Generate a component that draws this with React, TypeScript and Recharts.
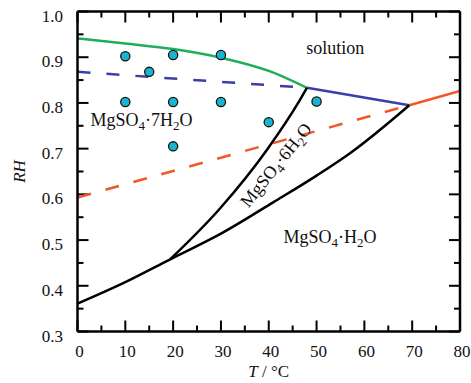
import React from 'react';
import { ComposedChart, Line, Scatter, XAxis, YAxis, ReferenceLine } from 'recharts';

// ---- data ----
const xMajorTicks = [0, 10, 20, 30, 40, 50, 60, 70, 80];
const xMinorTicks = [5, 15, 25, 35, 45, 55, 65, 75];
const yMajorTicks = [0.3, 0.4, 0.5, 0.6, 0.7, 0.8, 0.9, 1.0];
const yMinorTicks = [0.35, 0.45, 0.55, 0.65, 0.75, 0.85, 0.95];

const greenCurve = [
  { T: 0, RH: 0.941 }, { T: 10, RH: 0.930 }, { T: 20, RH: 0.918 },
  { T: 30, RH: 0.899 }, { T: 40, RH: 0.870 }, { T: 48, RH: 0.833 },
];
const blueDashed = [{ T: 0, RH: 0.868 }, { T: 48, RH: 0.833 }];
const blueSolid = [{ T: 48, RH: 0.833 }, { T: 69.4, RH: 0.795 }];
const orangeSolid = [{ T: 69.4, RH: 0.795 }, { T: 80, RH: 0.826 }];
const orangeDashed = [{ T: 0, RH: 0.593 }, { T: 69.4, RH: 0.795 }];
const blackLower = [
  { T: 0, RH: 0.361 }, { T: 10, RH: 0.408 }, { T: 19.4, RH: 0.458 },
  { T: 30, RH: 0.514 }, { T: 41, RH: 0.583 }, { T: 50, RH: 0.641 },
  { T: 57, RH: 0.690 }, { T: 69.4, RH: 0.795 },
];
const blackUpper = [
  { T: 19.4, RH: 0.458 }, { T: 29.8, RH: 0.569 }, { T: 39.6, RH: 0.697 },
  { T: 46.5, RH: 0.806 }, { T: 48, RH: 0.833 },
];
const experiments = [
  { T: 10, RH: 0.902 }, { T: 20, RH: 0.905 }, { T: 30, RH: 0.905 },
  { T: 15, RH: 0.868 }, { T: 10, RH: 0.802 }, { T: 20, RH: 0.802 },
  { T: 30, RH: 0.802 }, { T: 40, RH: 0.758 }, { T: 50, RH: 0.803 },
  { T: 20, RH: 0.705 },
];
const regionLabels = [
  { T: 53.9, RH: 0.920, name: 'solution' },
  { T: 13.4, RH: 0.763, name: 'MgSO4·7H2O' },
  { T: 52.8, RH: 0.507, name: 'MgSO4·H2O' },
  { T: 41.5, RH: 0.664, name: 'MgSO4·6H2O' },
];

const FONT = 'Liberation Serif, serif';
const rotations: Record<string, number> = { 'MgSO4·6H2O': -51 };

// chart geometry (pixels)
const W = 471;
const H = 383;
const LEFT = 77.5;
const RIGHT = 11;
const TOP = 11.5;
const BOTTOM = 51.5;
const XD: [number, number] = [0, 80];
const YD: [number, number] = [0.3, 1.0];
// tick lengths converted from pixels to data units
const pxToT = (XD[1] - XD[0]) / (W - LEFT - RIGHT);
const pxToRH = (YD[1] - YD[0]) / (H - TOP - BOTTOM);
const MAJOR_PX = 11;
const MINOR_PX = 6;

function renderChem(name: string) {
  const parts: React.ReactNode[] = [];
  let shift = 0;
  let buf = '';
  const chars = name.split('');
  chars.forEach((c, i) => {
    const isSub = /[0-9]/.test(c) && i > 0 && /[A-Za-z]/.test(chars[i - 1]);
    if (isSub) {
      if (buf) { parts.push(<tspan key={'t' + i} dy={-shift}>{buf}</tspan>); shift = 0; buf = ''; }
      parts.push(<tspan key={'s' + i} dy={5 - shift} fontSize={13}>{c}</tspan>);
      shift = 5;
    } else {
      buf += c;
    }
  });
  if (buf) parts.push(<tspan key="end" dy={-shift}>{buf}</tspan>);
  return parts;
}

const LabelShape = (props: any) => {
  const { cx, cy, payload } = props;
  const rot = rotations[payload.name] || 0;
  return (
    <text x={cx} y={cy} textAnchor="middle" dominantBaseline="central" fontFamily={FONT} fontSize={18} fill="#111"
      transform={rot ? `rotate(${rot} ${cx} ${cy})` : undefined}>
      {renderChem(payload.name)}
    </text>
  );
};

const DotShape = (props: any) => {
  const { cx, cy } = props;
  return <circle cx={cx} cy={cy} r={4.6} fill="#1ab4d0" stroke="#111" strokeWidth={1.3} />;
};

const XTitle = (props: any) => {
  const { viewBox } = props;
  const cx = viewBox.x + viewBox.width / 2;
  return (
    <text x={cx} y={viewBox.y + 39} textAnchor="middle" dominantBaseline="central" fontFamily={FONT} fontSize={17} fill="#111">
      <tspan fontStyle="italic">T</tspan>
      <tspan> / °C</tspan>
    </text>
  );
};

const YTitle = (props: any) => {
  const { viewBox } = props;
  const cy = viewBox.y + viewBox.height / 2;
  const x = 19;
  return (
    <text x={x} y={cy} textAnchor="middle" dominantBaseline="central" fontFamily={FONT} fontSize={17} fontStyle="italic" fill="#111" transform={`rotate(-90 ${x} ${cy})`}>
      RH
    </text>
  );
};

const frameLine = { stroke: '#000', strokeWidth: 2.5 };
const xTickText = { fontFamily: FONT, fontSize: 17, fill: '#111', dx: 2 };
const yTickText = { fontFamily: FONT, fontSize: 17, fill: '#111', dy: 4 };

function tickSegments() {
  const segs: { key: string; seg: [{ x: number; y: number }, { x: number; y: number }] }[] = [];
  const addX = (v: number, len: number) => {
    const dy = len * pxToRH;
    segs.push({ key: `xb${v}`, seg: [{ x: v, y: YD[0] }, { x: v, y: YD[0] + dy }] });
    segs.push({ key: `xt${v}`, seg: [{ x: v, y: YD[1] }, { x: v, y: YD[1] - dy }] });
  };
  const addY = (v: number, len: number) => {
    const dx = len * pxToT;
    segs.push({ key: `yl${v}`, seg: [{ x: XD[0], y: v }, { x: XD[0] + dx, y: v }] });
    segs.push({ key: `yr${v}`, seg: [{ x: XD[1], y: v }, { x: XD[1] - dx, y: v }] });
  };
  xMajorTicks.forEach((v) => addX(v, MAJOR_PX));
  xMinorTicks.forEach((v) => addX(v, MINOR_PX));
  yMajorTicks.forEach((v) => addY(v, MAJOR_PX));
  yMinorTicks.forEach((v) => addY(v, MINOR_PX));
  return segs;
}

export default function App() {
  return (
    <div style={{ position: 'absolute', left: 0, top: 0, width: W, height: H, background: '#fff' }}>
      <ComposedChart width={W} height={H} margin={{ top: 0, right: 0, bottom: 0, left: 0 }}>
        <XAxis xAxisId="b" orientation="bottom" type="number" dataKey="T" domain={XD} ticks={xMajorTicks} interval={0}
          height={BOTTOM} axisLine={frameLine} tickLine={false} tickSize={0} tickMargin={13} tick={xTickText}
          allowDataOverflow label={<XTitle />} />
        <XAxis xAxisId="t" orientation="top" type="number" dataKey="T" domain={XD} ticks={xMajorTicks} interval={0}
          height={TOP} axisLine={frameLine} tickLine={false} tick={false} allowDataOverflow />
        <YAxis yAxisId="l" orientation="left" type="number" dataKey="RH" domain={YD} ticks={yMajorTicks} interval={0}
          width={LEFT} axisLine={frameLine} tickLine={false} tickSize={0} tickMargin={14.5} tick={yTickText}
          tickFormatter={(v: number) => v.toFixed(1)} allowDataOverflow label={<YTitle />} />
        <YAxis yAxisId="r" orientation="right" type="number" dataKey="RH" domain={YD} ticks={yMajorTicks} interval={0}
          width={RIGHT} axisLine={frameLine} tickLine={false} tick={false} allowDataOverflow />

        {tickSegments().map((s) => (
          <ReferenceLine key={s.key} xAxisId="b" yAxisId="l" segment={s.seg} stroke="#000" strokeWidth={2} ifOverflow="visible" />
        ))}

        <Line xAxisId="b" yAxisId="l" data={orangeDashed} dataKey="RH" type="linear" stroke="#f2572a" strokeWidth={2.5} strokeDasharray="14 15" dot={false} isAnimationActive={false} />
        <Line xAxisId="b" yAxisId="l" data={blueDashed} dataKey="RH" type="linear" stroke="#3b3ea6" strokeWidth={2.5} strokeDasharray="13 16" dot={false} isAnimationActive={false} />
        <Line xAxisId="b" yAxisId="l" data={greenCurve} dataKey="RH" type="monotone" stroke="#1fad5c" strokeWidth={2.5} dot={false} isAnimationActive={false} />
        <Line xAxisId="b" yAxisId="l" data={blueSolid} dataKey="RH" type="linear" stroke="#3b3ea6" strokeWidth={2.5} dot={false} isAnimationActive={false} />
        <Line xAxisId="b" yAxisId="l" data={orangeSolid} dataKey="RH" type="linear" stroke="#f2572a" strokeWidth={2.5} dot={false} isAnimationActive={false} />
        <Line xAxisId="b" yAxisId="l" data={blackLower} dataKey="RH" type="monotone" stroke="#000" strokeWidth={2.5} dot={false} isAnimationActive={false} />
        <Line xAxisId="b" yAxisId="l" data={blackUpper} dataKey="RH" type="monotone" stroke="#000" strokeWidth={2.5} dot={false} isAnimationActive={false} />
        <Scatter xAxisId="b" yAxisId="l" data={experiments} dataKey="RH" shape={<DotShape />} isAnimationActive={false} />
        <Scatter xAxisId="b" yAxisId="l" data={regionLabels} dataKey="RH" shape={<LabelShape />} isAnimationActive={false} />
      </ComposedChart>
    </div>
  );
}
